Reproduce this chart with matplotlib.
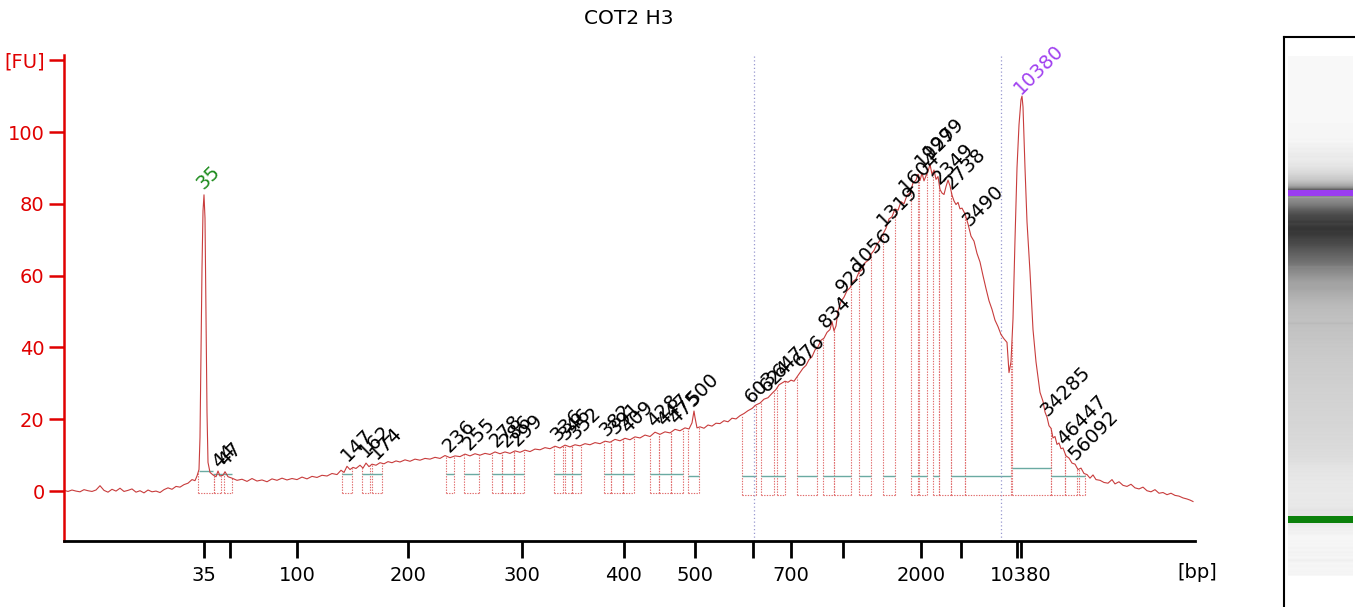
import numpy as np
import matplotlib
matplotlib.use("Agg")
import matplotlib.pyplot as plt
import matplotlib.transforms as mtransforms
from matplotlib.patches import Rectangle

# migration time (arbitrary units) and fluorescence [FU]
t = [64, 68, 72, 76, 80, 84, 88, 92, 96, 100, 104, 108, 112, 116, 120, 124, 128, 132, 136,
     140, 144, 148, 152, 156, 160, 164, 168, 172, 176, 180, 184, 188, 192, 195,
     197, 199, 200, 201, 202, 203, 204, 205, 206, 207, 208, 210, 213, 216, 218, 220, 223,
     225, 228,
     232, 237, 242, 247, 252, 257, 262, 267, 272, 277, 282, 287, 292, 297, 302, 307, 312,
     317, 322, 327, 332, 337, 341, 344, 347, 350, 353, 356, 360, 363, 366, 369, 372, 376,
     380, 384, 388, 392, 396, 400, 405, 410, 415, 420, 425, 430, 435, 440, 445, 450, 455,
     460, 465, 470, 475, 480, 485, 490, 495, 500, 505, 510, 515, 520, 525, 530, 535, 540,
     545, 550, 555, 560, 565, 570, 575, 580, 585, 590, 595, 600, 605, 610, 615, 620, 625,
     630, 635, 640, 645, 650, 655, 660, 665, 670, 675, 680, 685, 689, 692, 694, 695, 697,
     700, 704, 708, 712, 716, 720, 724, 728, 732, 736, 740, 744, 748, 752, 756, 760, 764,
     768, 772, 776, 779, 782, 785, 788, 791, 794, 797, 800, 803, 806, 809, 812, 815, 818,
     821, 824, 827, 830, 832, 834, 836, 838, 841, 844, 847, 850, 853, 856, 859, 862, 865,
     868, 871, 874, 877, 880, 883, 886, 889, 892, 895, 898, 901, 904, 907, 910, 913, 916,
     918, 920, 922, 924, 926, 928, 930, 932, 934, 936, 938, 940, 942, 944, 946, 948, 950,
     952, 954, 956, 958, 960, 962, 965, 968, 971, 974, 977, 980, 983, 986, 989, 992, 995,
     998, 1001, 1004, 1007, 1009, 1011, 1013, 1015, 1017, 1019, 1021, 1022, 1023, 1025,
     1027, 1030, 1033, 1036, 1040, 1043, 1045, 1047, 1049, 1051, 1053, 1055, 1057, 1059,
     1061, 1063, 1066, 1069, 1072, 1075, 1078, 1081, 1084, 1087, 1090, 1093, 1096, 1100,
     1104, 1108, 1112, 1115, 1119, 1123, 1127, 1131, 1135, 1139, 1143, 1147, 1151, 1155,
     1159, 1163, 1167, 1171, 1175, 1179, 1183, 1187, 1190, 1193]
fu = [0.2, -0.1, 0.3, 0.0, -0.2, 0.4, 0.1, -0.1, 0.3, 1.5, 0.2, -0.3, 0.5, 0.0, 0.8, -0.1,
      0.2, 0.6, -0.3, 0.1, -0.5, 0.3, -0.2, 0.0, -0.4, 0.4, 0.9, 0.5, 1.3, 1.1, 1.8, 2.2, 3.2,
      2.9,
      4.2, 6.0, 15, 38, 62, 78, 82.5, 76, 50, 22, 8, 5.2, 4.5, 4.0, 5.6, 4.2, 4.4, 5.4, 4.0,
      3.6, 3.0, 3.3, 2.7, 3.5, 2.8, 3.1, 2.6, 3.4, 3.0, 3.6, 3.1, 3.5, 3.2, 3.9, 3.4, 4.1,
      3.8, 4.4, 4.2, 4.9, 4.6, 5.8, 5.2, 6.9, 6.0, 6.6, 6.3, 7.2, 6.4, 7.8, 6.8, 7.5, 7.2,
      7.9, 7.6, 8.2, 7.9, 8.4, 8.1, 8.7, 8.3, 8.9, 8.6, 9.1, 8.9, 9.4, 9.1, 9.9, 9.3, 9.8,
      9.6, 10.3, 9.8, 10.4, 10.0, 10.5, 10.2, 10.9, 10.4, 10.9, 10.5, 11.2, 10.8, 11.4, 11.0,
      11.7, 11.5, 12.1, 11.8, 12.5, 12.0, 12.8, 12.3, 12.9, 12.6, 13.2, 12.9, 13.5, 13.2,
      13.9, 13.6, 14.4, 14.0, 14.7, 14.3, 15.1, 14.8, 15.6, 15.2, 16.4, 15.8, 16.5, 16.2,
      17.2, 16.8, 17.6, 17.3, 19.0, 22.3, 20.5, 17.6,
      17.9, 17.5, 18.4, 18.1, 18.9, 18.8, 19.6, 19.3, 20.3, 20.1, 21.0, 21.6, 22.4, 23.0,
      24.0, 24.5, 25.6, 26.0, 27.2, 28.3, 29.6, 30.1, 30.6, 30.3, 30.9, 30.6, 31.8, 33.0,
      34.2, 35.0, 36.6, 37.4, 39.3, 40.2, 42.0, 42.6, 44.2, 45.0, 47.2, 44.6, 46.0, 50.2,
      52.8, 54.0, 55.8, 56.6, 58.4, 59.0, 61.0, 61.6, 63.6, 64.2, 66.0, 67.0, 68.8, 69.8,
      71.6, 73.2, 75.8, 76.4, 78.6, 78.2, 80.6, 80.0, 82.4, 83.0, 85.8, 86.6, 88.2, 86.5,
      88.6, 86.4, 87.8, 89.0, 91.0, 88.2, 89.4, 86.8, 87.6, 84.0, 83.0, 82.6, 84.8, 86.6,
      85.0, 82.4, 80.8, 79.8, 80.4, 78.6, 78.8, 77.2, 74.4, 71.0, 69.6, 66.2, 63.8, 60.0,
      56.4, 53.0, 50.6, 47.6, 45.8, 43.6, 42.4, 41.4, 33.0, 36.0, 48.0, 70.0, 90.0, 102.0,
      109.0, 110.0, 107.0, 90.0, 75.0, 61.0, 45.0, 36.0, 27.5, 25.0, 22.0, 20.6, 18.2, 17.5,
      14.8, 15.2, 13.0, 13.4, 11.8, 12.0, 9.8, 9.2, 7.8, 7.5, 6.0, 6.4, 4.9, 4.6, 3.6, 4.5,
      3.2, 3.0, 2.4, 2.2, 3.2, 2.0, 2.6, 1.6, 1.3, 1.9, 0.9, 0.6, 1.1, 0.1, -0.2, 0.4, -0.6,
      -0.4, -1.0, -0.6, -1.2, -1.4, -1.9, -2.2, -2.5, -2.9]

# bp axis ticks (position in migration time, label)
bp_tick_pos = [204, 230, 297, 408, 522, 624, 695, 753, 791, 843, 921, 961, 1017, 1021]
bp_tick_lbl = ["35", "", "100", "200", "300", "400", "500", "", "700", "", "2000", "", "", "10380"]

# peak labels: text, position, color
peak_lbl = ["35", "44", "47", "147", "162", "174", "236", "255", "278", "286", "299",
            "336", "346", "352", "382", "391", "409", "428", "447", "475", "500",
            "603", "624", "647", "676", "834", "929", "1056", "1319", "1604", "1927",
            "1999", "2349", "2738", "3490", "10380", "34285", "46447", "56092"]
peak_pos = [204, 219, 225, 348, 366, 377, 450, 470, 497, 507, 518,
            558, 566, 576, 607, 616, 628, 654, 664, 676, 694,
            752, 767, 780, 800, 826, 843, 858, 884, 906, 922,
            930, 940, 952, 970, 1021, 1048, 1064, 1076]
peak_col = ["#1e8c1e"] + ["black"] * 34 + ["#a040f0"] + ["black"] * 3

# peak table boxes (left, right) and their baselines (start, end, FU)
box_left = [198, 214, 224, 342, 362, 372, 446, 464, 492, 502, 514, 554, 565, 572, 604, 611,
            623, 650, 659, 671, 688, 742, 761, 777, 797, 823, 834, 859, 883, 911, 919, 933,
            939, 951, 965, 1012, 1051, 1065, 1079]
box_right = [214, 221, 232, 352, 370, 382, 454, 479, 502, 514, 524, 563, 572, 581, 611, 623,
             634, 659, 671, 683, 699, 756, 774, 785, 817, 834, 851, 871, 895, 918, 927, 939,
             951, 965, 1011, 1051, 1065, 1077, 1085]
base_start = [199, 213, 342, 362, 446, 464, 492, 554, 604, 650, 688, 742, 761, 797, 823, 859,
              883, 911, 933, 951, 1012, 1051]
base_end = [213, 232, 352, 382, 454, 479, 524, 581, 634, 683, 699, 756, 785, 817, 851, 871,
            895, 927, 939, 1011, 1051, 1085]
base_fu = [5.6, 4.7, 4.7, 4.7, 4.7, 4.7, 4.7, 4.7, 4.7, 4.7, 4.2, 4.2, 4.2, 4.2, 4.2, 4.2,
           4.2, 4.2, 4.2, 4.2, 6.4, 4.2]

trace_red = "#c83c3c"
axis_red = "#e00000"

fig = plt.figure(figsize=(13.55, 6.07), dpi=100)
ax = fig.add_axes([64 / 1355, 1 - 541 / 607, (1195 - 64) / 1355, (541 - 54.8) / 607])
ax.set_xlim(64, 1195)
ax.set_ylim(-13.9, 121.5)

# peak boxes
for l, r in zip(box_left, box_right):
    bot = -0.5 if r < 720 else -1.1
    ax.vlines([l, r], bot, np.interp([l, r], t, fu), colors="#e06a6a",
              linestyles=(0, (1.2, 1.2)), lw=0.8)
    ax.hlines(bot, l, r, colors="#e06a6a", linestyles=(0, (1.2, 1.2)), lw=0.8)
for s, e, b in zip(base_start, base_end, base_fu):
    ax.hlines(b, s, e, colors="#6aaaa2", lw=1.0)

ax.vlines([754, 1001], -13.9, 121.5, colors="#9898d0", linestyles=(0, (1, 2)), lw=0.9)
ax.plot(t, fu, color=trace_red, lw=0.8)

for lbl, p, c in zip(peak_lbl, peak_pos, peak_col):
    y = np.interp(p, t, fu)
    ax.annotate(lbl, (p, y), xytext=(2, 1.5), textcoords="offset points", rotation=45,
                rotation_mode="anchor", ha="left", va="bottom", fontsize=14, color=c)

for s in ["top", "right"]:
    ax.spines[s].set_visible(False)
ax.spines["left"].set_color(axis_red)
ax.spines["left"].set_linewidth(1.8)
ax.spines["bottom"].set_linewidth(2)

ax.set_yticks([0, 20, 40, 60, 80, 100, 120])
ax.set_yticklabels(["0", "20", "40", "60", "80", "100", "[FU]"])
ax.tick_params(axis="y", colors=axis_red, length=11, width=1.8, labelsize=14, pad=3)
ax.set_xticks(bp_tick_pos)
ax.set_xticklabels(bp_tick_lbl)
ax.tick_params(axis="x", length=12, width=2, labelsize=14, pad=6)

trans = mtransforms.blended_transform_factory(ax.transData, ax.transAxes)
ax.text(1197, -0.064, "[bp]", transform=trans, ha="center", va="center", fontsize=14)
fig.text(629 / 1355, 1 - 18 / 607, "COT2 H3", ha="center", va="center", fontsize=14.5)

# gel-like lane on the right
gax = fig.add_axes([1284 / 1355, 0, 90 / 1355, (607 - 37) / 607])
gax.set_xticks([])
gax.set_yticks([])
for s in ["bottom", "right"]:
    gax.spines[s].set_visible(False)
for s in ["left", "top"]:
    gax.spines[s].set_linewidth(1.5)

def gel_y(tt):
    return 519 + (np.asarray(tt) - 204) * (193 - 519) / (1021 - 204)

gax.add_patch(Rectangle((1288, 56), 65, 520, color="#f8f8f8", lw=0, zorder=0))
tf = np.linspace(64, 1195, 700)
v = np.clip(np.interp(tf, t, fu), 0, 90)
g = 0.965 - 0.76 * (v / 90) ** 0.8
img = np.stack([g, g, g], axis=-1)[:, None, :]
gax.imshow(img, extent=[1288, 1353, gel_y(64), gel_y(1195)], aspect="auto",
           origin="lower", interpolation="bilinear", zorder=1)
gax.add_patch(Rectangle((1288, gel_y(204) - 3.5), 65, 7, color="#0a800a", lw=0, zorder=2))
gax.add_patch(Rectangle((1288, gel_y(1021) - 3), 65, 6, color="#9a3cf0", lw=0, zorder=2))
gax.set_xlim(1284, 1374)
gax.set_ylim(607, 37)

fig.savefig("out.png", dpi=100)
